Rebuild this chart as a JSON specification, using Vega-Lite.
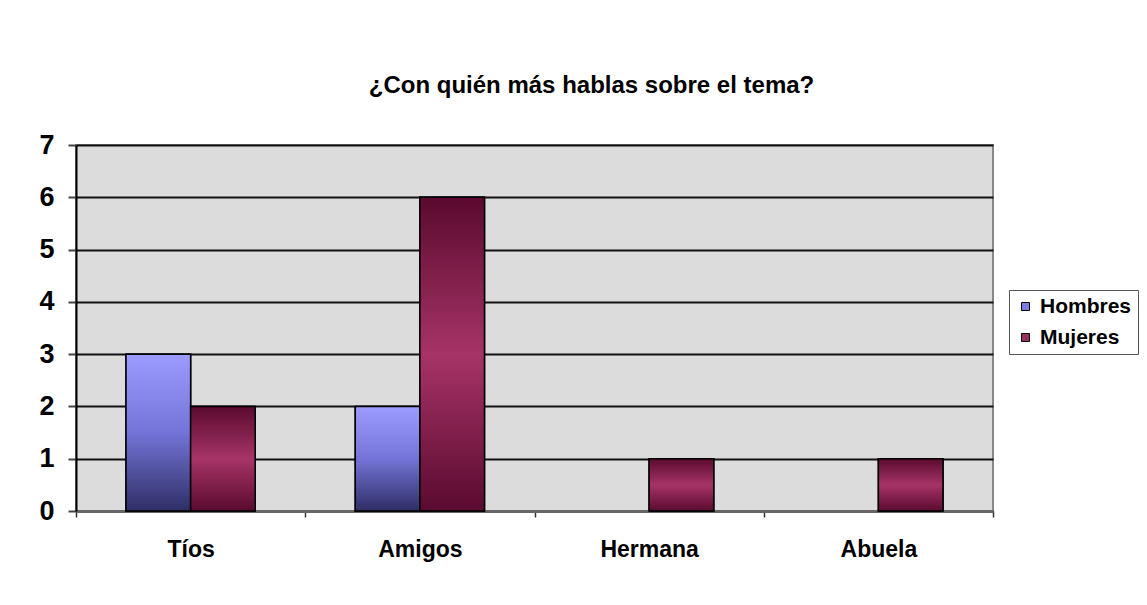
{
  "$schema": "https://vega.github.io/schema/vega-lite/v6.json",
  "autosize": "none",
  "width": 917,
  "height": 366,
  "padding": {"left": 76, "top": 145, "right": 154, "bottom": 94},
  "background": "#ffffff",
  "title": {
    "text": "¿Con quién más hablas sobre el tema?",
    "font": "Liberation Sans",
    "fontSize": 24,
    "fontWeight": "bold",
    "color": "#000000",
    "anchor": "middle",
    "dx": 57,
    "offset": 33
  },
  "data": {
    "values": [
      {"persona": "Tíos", "grupo": "Hombres", "valor": 3},
      {"persona": "Tíos", "grupo": "Mujeres", "valor": 2},
      {"persona": "Amigos", "grupo": "Hombres", "valor": 2},
      {"persona": "Amigos", "grupo": "Mujeres", "valor": 6},
      {"persona": "Hermana", "grupo": "Mujeres", "valor": 1},
      {"persona": "Abuela", "grupo": "Mujeres", "valor": 1}
    ]
  },
  "encoding": {
    "x": {
      "field": "persona",
      "type": "nominal",
      "sort": ["Tíos", "Amigos", "Hermana", "Abuela"],
      "scale": {"paddingInner": 0, "paddingOuter": 0},
      "axis": {
        "title": null,
        "labelAngle": 0,
        "labelFont": "Liberation Sans",
        "labelFontSize": 23,
        "labelFontWeight": "bold",
        "labelColor": "#000000",
        "labelPadding": 21,
        "tickBand": "extent",
        "tickSize": 6,
        "tickColor": "#333333",
        "tickWidth": 1.5,
        "domainColor": "#666666",
        "domainWidth": 3,
        "grid": false
      }
    },
    "xOffset": {
      "field": "grupo",
      "type": "nominal",
      "sort": ["Hombres", "Mujeres"],
      "scale": {"domain": ["Hombres", "Mujeres"], "paddingInner": 0, "paddingOuter": 0.774}
    },
    "y": {
      "field": "valor",
      "type": "quantitative",
      "scale": {"domain": [0, 7], "nice": false},
      "axis": {
        "title": null,
        "values": [0, 1, 2, 3, 4, 5, 6, 7],
        "labelFont": "Liberation Sans",
        "labelFontSize": 27,
        "labelFontWeight": "bold",
        "labelColor": "#000000",
        "labelPadding": 14,
        "tickSize": 8,
        "tickColor": "#444444",
        "tickWidth": 2,
        "domainColor": "#000000",
        "domainWidth": 2,
        "grid": true,
        "gridColor": "#111111",
        "gridWidth": 2,
        "gridOpacity": 1
      }
    }
  },
  "layer": [
    {
      "mark": {"type": "bar", "stroke": "#000000", "strokeWidth": 1.5},
      "encoding": {
        "color": {
          "field": "grupo",
          "type": "nominal",
          "sort": ["Hombres", "Mujeres"],
          "scale": {"domain": ["Hombres", "Mujeres"], "range": ["#7c7cde", "#99305f"]},
          "legend": {
            "title": null,
            "orient": "none",
            "legendX": 933,
            "legendY": 145,
            "labelFont": "Liberation Sans",
            "labelFontSize": 21,
            "labelFontWeight": "bold",
            "labelColor": "#000000",
            "symbolType": "square",
            "symbolSize": 64,
            "symbolStrokeColor": "#000000",
            "symbolStrokeWidth": 1,
            "rowPadding": 9,
            "labelOffset": 4,
            "padding": 6,
            "strokeColor": "#555555",
            "fillColor": "#ffffff"
          }
        }
      }
    },
    {
      "transform": [{"filter": "datum.grupo === 'Hombres'"}],
      "mark": {
        "type": "bar",
        "stroke": "#000000",
        "strokeWidth": 1.5,
        "fill": {"gradient": "linear", "x1": 0, "y1": 0, "x2": 0, "y2": 1, "stops": [{"offset": 0, "color": "#9c9cff"}, {"offset": 0.5, "color": "#7474d8"}, {"offset": 1, "color": "#2e2e66"}]}
      }
    },
    {
      "transform": [{"filter": "datum.grupo === 'Mujeres'"}],
      "mark": {
        "type": "bar",
        "stroke": "#000000",
        "strokeWidth": 1.5,
        "fill": {"gradient": "linear", "x1": 0, "y1": 0, "x2": 0, "y2": 1, "stops": [{"offset": 0, "color": "#5a0a30"}, {"offset": 0.5, "color": "#a63466"}, {"offset": 1, "color": "#5a0a30"}]}
      }
    }
  ],
  "config": {
    "view": {"fill": "#dcdcdc", "stroke": "#888888", "strokeWidth": 2}
  }
}
